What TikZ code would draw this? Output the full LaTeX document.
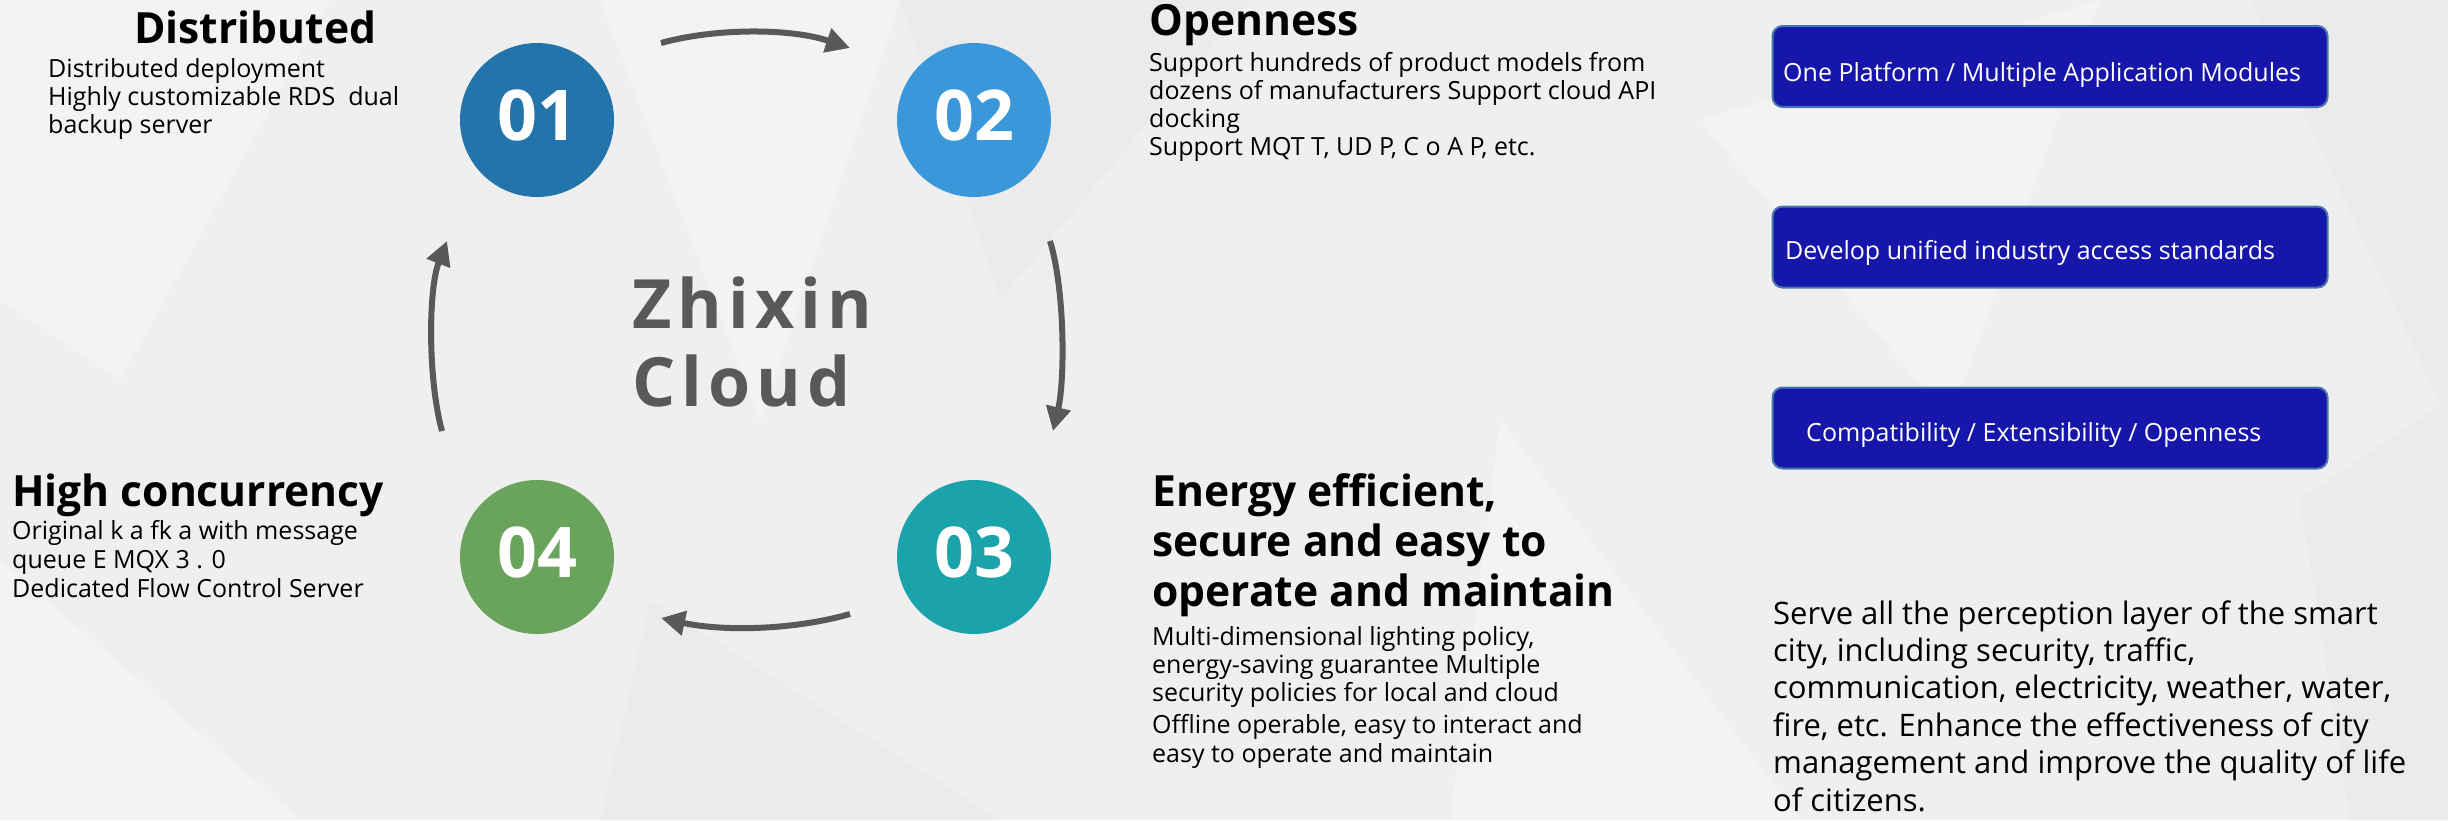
\documentclass[tikz,border=0pt]{standalone}
\usepackage{fontspec}
\setmainfont{Open Sans}
\newfontfamily\zhfont[LetterSpace=9]{Open Sans}
\newfontfamily\ttlfont[FakeStretch=0.99]{Open Sans}
\usetikzlibrary{arrows.meta}
\definecolor{bg}{HTML}{EFEFEF}
\definecolor{facetA}{HTML}{F3F3F3}
\definecolor{facetB}{HTML}{EBEBEB}
\definecolor{cOne}{HTML}{2274AA}
\definecolor{cTwo}{HTML}{3A98DA}
\definecolor{cThree}{HTML}{1AA3AB}
\definecolor{cFour}{HTML}{6AA35C}
\definecolor{arrowgray}{HTML}{595959}
\definecolor{boxblue}{HTML}{1616AA}
\definecolor{boxedge}{HTML}{4A78AE}
\tikzset{
  numcirc/.style={circle, minimum size=154pt, inner sep=0pt, text=white,
    font=\bfseries\fontsize{70}{70}\selectfont, text depth=10pt},
  flowarrow/.style={draw=arrowgray, line width=6pt,
    -{Triangle[length=24pt,width=24pt]}},
  titletext/.style={anchor=base west, inner sep=0pt, align=left, text=black,
    font=\ttlfont\bfseries\fontsize{43}{50}\selectfont},
  bodytext/.style={anchor=base west, inner sep=0pt, align=left, text=black,
    font=\fontsize{25}{28.2}\selectfont},
  bluebox/.style={draw=boxedge, line width=2pt, fill=boxblue, rounded corners=10pt,
    minimum width=555pt, minimum height=81pt, inner sep=0pt},
  boxtext/.style={anchor=base west, inner sep=0pt, text=white,
    font=\fontsize{25}{30}\selectfont},
  bigtext/.style={anchor=base west, inner sep=0pt, align=left, text=black,
    font=\fontsize{31}{37.4}\selectfont},
  centertext/.style={anchor=base west, inner sep=0pt, align=left, text=arrowgray,
    font=\zhfont\bfseries\fontsize{68}{78}\selectfont}
}
\begin{document}
\begin{tikzpicture}[x=1pt,y=-1pt]
\useasboundingbox[fill=bg] (0,0) rectangle (2448,820);
% faint background facets
\fill[facetA] (0,0) -- (330,0) -- (120,380) -- (0,300) -- cycle;
\fill[facetA] (600,0) -- (900,0) -- (760,420) -- cycle;
\fill[facetB] (900,0) -- (1250,0) -- (1000,300) -- cycle;
\fill[facetA] (1700,120) -- (2100,0) -- (1950,420) -- cycle;
\fill[facetB] (2250,0) -- (2448,0) -- (2448,420) -- cycle;
\fill[facetA] (0,560) -- (300,820) -- (0,820) -- cycle;
\fill[facetB] (650,600) -- (1000,820) -- (600,820) -- cycle;
\fill[facetA] (1500,420) -- (1800,820) -- (1450,820) -- cycle;
\fill[facetB] (2300,500) -- (2448,400) -- (2448,820) -- (2350,820) -- cycle;

% circles
\node[numcirc, fill=cOne]   (n1) at (537,120) {01};
\node[numcirc, fill=cTwo]   (n2) at (974,120) {02};
\node[numcirc, fill=cThree] (n3) at (974,557) {03};
\node[numcirc, fill=cFour]  (n4) at (537,557) {04};

% arrows
\coordinate (a1s) at (661,43);   \coordinate (a1e) at (850,48);
\coordinate (a2s) at (1050,241); \coordinate (a2e) at (1053,431);
\coordinate (a3s) at (850,614);  \coordinate (a3e) at (661,618);
\coordinate (a4s) at (442,431);  \coordinate (a4e) at (447,241);
\draw[flowarrow] (a1s) .. controls (715,28) and (790,28) .. (a1e);
\draw[flowarrow] (a2s) .. controls (1065,290) and (1065,380) .. (a2e);
\draw[flowarrow] (a3s) .. controls (790,631) and (720,631) .. (a3e);
\draw[flowarrow] (a4s) .. controls (428,380) and (428,290) .. (a4e);

% center text (base = last line)
\node[centertext] (ctr) at (632,406) {Zhixin\\Cloud};

% titles (base = last line)
\node[titletext] (t1) at (134,43.3) {Distributed};
\node[titletext] (t2) at (1149,35) {Openness};
\node[titletext] (t3) at (1152,606.7) {Energy efficient,\\secure and easy to\\operate and maintain};
\node[titletext] (t4) at (12,506.7) {High concurrency};

% body texts (base = last line)
\node[bodytext, font=\fontsize{25}{27.8}\selectfont] (d1) at (48,133.3) {Distributed deployment\\Highly customizable RDS\ \ dual\\backup server};
\node[bodytext] (d2) at (1149,155.7) {Support hundreds of product models from\\dozens of manufacturers Support cloud API\\docking\\Support MQT T, UD P, C o A P, etc.};
\node[bodytext] (d3) at (1152,762) {Multi-dimensional lighting policy,\\energy-saving guarantee Multiple\\security policies for local and cloud\\[4pt]Offline operable, easy to interact and\\easy to operate and maintain};
\node[bodytext, font=\fontsize{25}{29}\selectfont] (d4) at (12,597) {Original k a fk a with message\\queue E MQX 3 . 0\\Dedicated Flow Control Server};

% blue boxes
\node[bluebox] (b1) at (2050,66.5) {};
\node[bluebox] (b2) at (2050,247) {};
\node[bluebox] (b3) at (2050,428) {};
\node[boxtext] (bt1) at (1783,81) {One Platform / Multiple Application Modules};
\node[boxtext] (bt2) at (1785,259) {Develop unified industry access standards};
\node[boxtext] (bt3) at (1806,441) {Compatibility / Extensibility / Openness};

% bottom right paragraph (base = last line)
\node[bigtext] (p1) at (1773,811) {Serve all the perception layer of the smart\\city, including security, traffic,\\communication, electricity, weather, water,\\fire, etc. Enhance the effectiveness of city\\management and improve the quality of life\\of citizens.};
\end{tikzpicture}
\end{document}
